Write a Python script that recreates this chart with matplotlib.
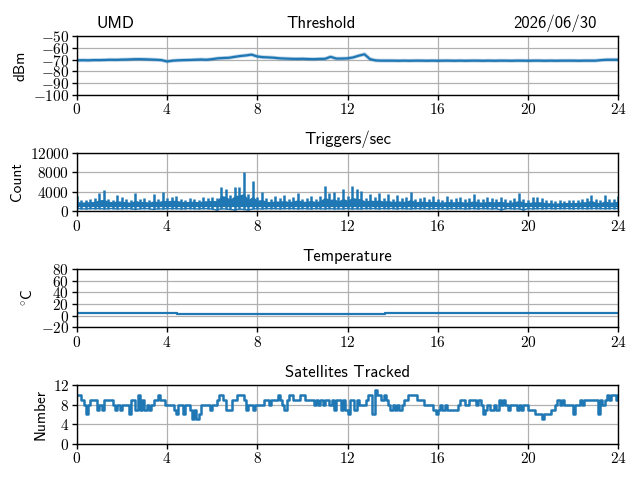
import numpy as np
import matplotlib
matplotlib.use("Agg")
import matplotlib.pyplot as plt
from matplotlib.ticker import FuncFormatter, MultipleLocator

# ---- style ----
plt.rcParams["font.family"] = ["cmss10", "DejaVu Sans"]
plt.rcParams["mathtext.fontset"] = "cm"
plt.rcParams["axes.unicode_minus"] = False
plt.rcParams.update({
    "axes.linewidth": 1.0,
    "xtick.major.width": 1.0,
    "ytick.major.width": 1.0,
})
LINE = "#1f77b4"

# ---- data ----
STATION = "UMD"
DATE = "2026/06/30"

# threshold (dBm), every 15 min
thr_time = np.arange(0, 24.01, 0.25)
thr_dbm = [
    -70.5, -70.4, -70.5, -70.3,
    -70.3, -70.2, -70.0, -70.1,
    -69.9, -69.8, -69.6, -69.5,
    -69.6, -69.8, -70.0, -70.3,
    -71.5, -70.8, -70.5, -70.3,
    -70.2, -70.0, -69.8, -70.0,
    -69.5, -68.8, -68.5, -68.3,
    -67.5, -66.8, -66.3, -65.6,
    -67.2, -67.8, -68.0, -68.3,
    -68.8, -69.0, -69.2, -69.3,
    -69.2, -69.4, -69.5, -69.3,
    -69.2, -67.5, -69.0, -69.0,
    -68.8, -68.0, -66.5, -65.3,
    -69.5, -70.6, -70.8, -70.8,
    -70.8, -70.9, -70.8, -70.9,
    -70.8, -70.8, -70.9, -70.8,
    -70.9, -70.8, -70.8, -70.9,
    -70.8, -70.9, -70.8, -70.8,
    -70.9, -70.8, -70.9, -70.8,
    -70.8, -70.9, -70.8, -70.8,
    -70.9, -70.8, -70.8, -70.9,
    -70.8, -70.9, -70.8, -70.8,
    -70.8, -70.9, -70.8, -70.8,
    -70.8, -70.3, -70.0, -70.0,
    -70.0,
]

# triggers/sec, every 12 min: spike peak, top of the dense core, trough
trig_time = np.arange(0, 24.01, 0.2)
trig_hi = [
    3000, 2200, 2300, 2400, 2600, 3800, 4300, 2500, 2300, 3200,
    2800, 2500, 2200, 3800, 2400, 2600, 2300, 3500, 2500, 4000,
    2600, 2800, 3000, 2400, 2200, 2600, 2500, 2300, 2800, 2700,
    2900, 2600, 5000, 4600, 3200, 4900, 5000, 8000, 3500, 6100,
    2800, 4000, 2600, 2400, 3000, 2600, 3200, 2500, 2800, 3800,
    2500, 2600, 3000, 2400, 3100, 5200, 3800, 4000, 2800, 4500,
    3000, 5100, 4500, 4200, 2600, 3500, 2800, 3600, 2600, 3500,
    2400, 3200, 2600, 2800, 4000, 2500, 2600, 2800, 2400, 3000,
    2400, 2300, 3000, 2500, 2600, 2800, 2400, 2700, 3500, 2500,
    2400, 2800, 2600, 2500, 2800, 2500, 2300, 2600, 3700, 2400,
    2200, 2800, 2800, 2700, 2300, 2200, 2100, 2200, 2100, 2300,
    2200, 2300, 2500, 2600, 3300, 2400, 2200, 3300, 2400, 2500,
    3000,
]
trig_core = [
    2000, 1800, 1900, 1900, 2000, 2300, 2400, 2000, 1900, 2100,
    2000, 1900, 1800, 2200, 1900, 2000, 1800, 2100, 1900, 2200,
    2100, 2200, 2200, 2000, 1900, 2000, 2000, 1900, 2100, 2100,
    2200, 2100, 3200, 3000, 2400, 3200, 3300, 3600, 2400, 3000,
    2200, 2400, 2000, 1900, 2100, 2000, 2200, 1900, 2100, 2300,
    2000, 2000, 2200, 1900, 2200, 2800, 2400, 2500, 2100, 2600,
    2200, 2800, 2600, 2500, 2000, 2300, 2100, 2300, 2000, 2200,
    1900, 2100, 2000, 2000, 2400, 1900, 2000, 2000, 1900, 2000,
    1900, 1800, 2000, 1900, 1900, 2000, 1800, 1900, 2100, 1900,
    1800, 2000, 1900, 1900, 2000, 1800, 1800, 1900, 2200, 1800,
    1700, 1900, 1900, 1900, 1700, 1700, 1600, 1700, 1700, 1800,
    1700, 1800, 1900, 1900, 2200, 1800, 1700, 2100, 1800, 1900,
    2000,
]
trig_lo = [
    500, 450, 400, 500, 450, 500, 400, 450, 500, 400,
    450, 500, 450, 300, 450, 500, 450, 300, 450, 400,
    500, 450, 500, 400, 450, 500, 450, 400, 500, 450,
    400, 200, 450, 400, 300, 200, 400, 300, 200, 400,
    450, 400, 500, 450, 500, 400, 500, 450, 500, 400,
    500, 450, 400, 500, 450, 400, 500, 400, 450, 400,
    500, 400, 450, 400, 500, 450, 500, 400, 500, 450,
    500, 400, 500, 450, 400, 500, 450, 500, 400, 500,
    450, 500, 400, 500, 450, 500, 400, 450, 500, 400,
    500, 450, 400, 500, 200, 450, 500, 400, 450, 200,
    500, 400, 500, 450, 500, 500, 450, 500, 500, 500,
    450, 500, 500, 450, 500, 500, 500, 450, 500, 500,
    500,
]
TRIG_CORE_FLOOR = 900

# temperature (deg C), change points
temp_time = [0, 1.3, 1.4, 4.45, 13.65, 24]
temp_c = [4.8, 4.0, 4.8, 3.0, 4.8, 4.8]

# satellites tracked, every 6 min
sat_time = np.arange(0, 24.01, 0.1)
sat_n = [
    10, 10, 9, 8, 6, 8, 9, 9, 9, 7,
    8, 7, 9, 9, 9, 9, 8, 7, 8, 7,
    8, 8, 8, 6, 9, 9, 7, 10, 7, 9,
    7, 8, 7, 8, 9, 9, 10, 9, 9, 8,
    8, 8, 8, 7, 6, 8, 8, 6, 8, 8,
    7, 5, 7, 5, 6, 8, 8, 8, 8, 7,
    8, 8, 9, 10, 10, 9, 7, 7, 7, 9,
    9, 10, 10, 10, 9, 7, 8, 8, 7, 8,
    8, 8, 8, 9, 9, 8, 9, 9, 9, 10,
    9, 8, 7, 9, 10, 10, 9, 9, 9, 10,
    10, 9, 9, 9, 9, 8, 9, 8, 9, 8,
    9, 9, 8, 9, 7, 9, 9, 7, 9, 7,
    6, 9, 9, 7, 9, 8, 8, 8, 9, 10,
    10, 6, 11, 10, 10, 9, 10, 9, 8, 7,
    8, 7, 8, 7, 8, 9, 9, 10, 10, 10,
    10, 9, 9, 9, 8, 8, 8, 8, 7, 6,
    7, 8, 7, 8, 7, 7, 7, 7, 7, 8,
    9, 9, 8, 8, 9, 9, 9, 8, 9, 8,
    6, 7, 8, 7, 7, 8, 7, 9, 8, 9,
    8, 7, 8, 8, 8, 7, 8, 7, 8, 8,
    7, 7, 7, 6, 6, 6, 5, 6, 6, 6,
    7, 7, 8, 9, 8, 9, 8, 8, 8, 8,
    6, 8, 8, 9, 8, 9, 9, 9, 9, 9,
    9, 6, 9, 8, 9, 10, 9, 10, 10, 9,
    10,
]

# ---- figure ----
fig, axes = plt.subplots(4, 1, figsize=(6.4, 4.8), dpi=100)
fig.subplots_adjust(left=0.120, right=0.966, top=0.924, bottom=0.076, hspace=1.0)

math_fmt = FuncFormatter(lambda v, p: f"${v:g}$")

def style_axis(ax, title, ylabel, ylim, ystep, title_x=0.5):
    ax.set_title(title, fontsize=12, x=title_x)
    ax.set_ylabel(ylabel, fontsize=11)
    ax.set_xlim(0, 24)
    ax.set_ylim(*ylim)
    ax.xaxis.set_major_locator(MultipleLocator(4))
    ax.yaxis.set_major_locator(MultipleLocator(ystep))
    ax.xaxis.set_major_formatter(math_fmt)
    ax.yaxis.set_major_formatter(math_fmt)
    ax.tick_params(axis="both", labelsize=11, length=3.5, pad=2)
    ax.grid(True, color="#b0b0b0", linewidth=0.9)
    ax.set_axisbelow(True)

ax = axes[0]
ax.plot(thr_time, thr_dbm, color=LINE, linewidth=2.8, alpha=0.3)
ax.plot(thr_time, thr_dbm, color=LINE, linewidth=1.6)
style_axis(ax, "Threshold", "dBm", (-100, -50), 10, title_x=0.451)
ax.annotate(STATION, xy=(0.037, 1), xycoords="axes fraction",
            xytext=(0, 6), textcoords="offset points",
            ha="left", va="baseline", fontsize=12)
ax.annotate(DATE, xy=(0.961, 1), xycoords="axes fraction",
            xytext=(0, 6), textcoords="offset points",
            ha="right", va="baseline", fontsize=12)

ax = axes[1]
ax.fill_between(trig_time, TRIG_CORE_FLOOR, trig_core, color=LINE, linewidth=0)
ax.vlines(trig_time, trig_lo, trig_hi, color=LINE, linewidth=1.8)
ax.plot(trig_time, trig_lo, color=LINE, linewidth=1.0)
style_axis(ax, "Triggers/sec", "Count", (0, 12000), 4000)

ax = axes[2]
ax.plot(temp_time, temp_c, color=LINE, linewidth=1.6, drawstyle="steps-post")
style_axis(ax, "Temperature", r"$^\circ\!$C", (-20, 80), 20)

ax = axes[3]
ax.plot(sat_time, sat_n, color=LINE, linewidth=1.8, drawstyle="steps-post")
style_axis(ax, "Satellites Tracked", "Number", (0, 12), 4)

fig.savefig("out.png", dpi=100)
